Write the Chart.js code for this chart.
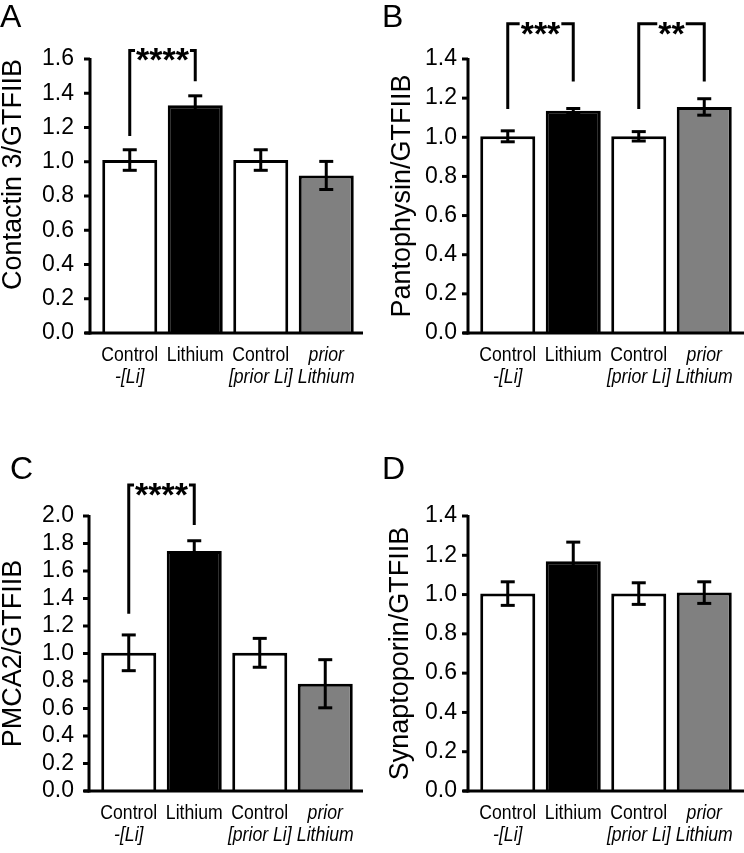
<!DOCTYPE html>
<html>
<head>
<meta charset="utf-8">
<script src="https://cdn.jsdelivr.net/npm/chart.js@4.4.1/dist/chart.umd.min.js"></script>
<style>
body { margin: 0; background: #fff; }
#wrap { position: relative; width: 744px; height: 853px; }
canvas { position: absolute; }
</style>
</head>
<body>
<div id="wrap">
    <canvas id="chartA" width="372" height="426" style="left:0;top:0"></canvas>
    <canvas id="chartB" width="372" height="426" style="left:372px;top:0"></canvas>
    <canvas id="chartC" width="372" height="427" style="left:0;top:426px"></canvas>
    <canvas id="chartD" width="372" height="427" style="left:372px;top:426px"></canvas>
</div>
<script>
// group labels (two lines each, second line italic)
var groupLine1 = ['Control', 'Lithium', 'Control', 'prior'];
var groupLine2 = ['-[Li]', '', '[prior Li]', 'Lithium'];
var barColors = ['#ffffff', '#000000', '#ffffff', '#808080'];

// values (mean and SEM, normalised to GTFIIB)
var contactinMean = [1.01, 1.33, 1.01, 0.92];
var contactinSem = [0.06, 0.055, 0.06, 0.082];
var pantophysinMean = [1.005, 1.135, 1.005, 1.155];
var pantophysinSem = [0.028, 0.012, 0.024, 0.042];
var pmca2Mean = [1.005, 1.745, 1.005, 0.78];
var pmca2Sem = [0.13, 0.075, 0.105, 0.175];
var synaptoporinMean = [1.005, 1.17, 1.005, 1.01];
var synaptoporinSem = [0.06, 0.097, 0.055, 0.055];

// y axis maxima (ticks every 0.2)
var yMax = [1.6, 1.4, 2.0, 1.4];

// significance brackets: [from bar, to bar, left foot, top, right foot, stars]
var contactinStars = [[0, 1, 1.15, 1.65, 1.47, '****']];
var pantophysinStars = [[0, 1, 1.145, 1.58, 1.285, '***'], [2, 3, 1.145, 1.58, 1.285, '**']];
var pmca2Stars = [[0, 1, 1.29, 2.225, 1.935, '****']];
var synaptoporinStars = [];

var FONT = '"Liberation Sans", Arial, Helvetica, sans-serif';

var panels = [
    {id: 'chartA', letter: 'A', title: 'Contactin 3/GTFIIB', mean: contactinMean, sem: contactinSem, max: yMax[0],
     stars: contactinStars, left: 97, top: 59, right: 13, bottom: 93, labelPad: 23, titlePad: 0, titleAlign: 'end', axisEnd: 4, letterX: 0, letterY: 27},
    {id: 'chartB', letter: 'B', title: 'Pantophysin/GTFIIB', mean: pantophysinMean, sem: pantophysinSem, max: yMax[1],
     stars: pantophysinStars, left: 103, top: 59, right: 7, bottom: 93, labelPad: 18, titlePad: 17.5, titleAlign: 'center', axisEnd: 7, letterX: 10, letterY: 27},
    {id: 'chartC', letter: 'C', title: 'PMCA2/GTFIIB', mean: pmca2Mean, sem: pmca2Sem, max: yMax[2],
     stars: pmca2Stars, left: 96, top: 90, right: 14, bottom: 62, labelPad: 22, titlePad: 0, titleAlign: 'center', axisEnd: 5, letterX: 10, letterY: 53},
    {id: 'chartD', letter: 'D', title: 'Synaptoporin/GTFIIB', mean: synaptoporinMean, sem: synaptoporinSem, max: yMax[3],
     stars: synaptoporinStars, left: 103, top: 90, right: 7, bottom: 62, labelPad: 18, titlePad: 15.5, titleAlign: 'center', axisEnd: 7, letterX: 10, letterY: 53}
];

function makeDecor(panel) {
    return {
        id: 'decor',
        afterDraw: function(chart) {
            var ctx = chart.ctx;
            var xs = chart.scales.x;
            var ys = chart.scales.y;
            var area = chart.chartArea;
            var axisX = area.left - 7;

            function line(x1, y1, x2, y2) {
                ctx.beginPath();
                ctx.moveTo(x1, y1);
                ctx.lineTo(x2, y2);
                ctx.stroke();
            }

            ctx.save();
            ctx.strokeStyle = '#000';
            ctx.fillStyle = '#000';
            ctx.lineWidth = 3;
            ctx.lineJoin = 'miter';

            // error bars
            for (var i = 0; i < panel.mean.length; i++) {
                var cx = xs.getPixelForValue(i);
                var top = ys.getPixelForValue(panel.mean[i] + panel.sem[i]);
                var bot = ys.getPixelForValue(panel.mean[i] - panel.sem[i]);
                line(cx, top, cx, bot);
                line(cx - 7, top, cx + 7, top);
                line(cx - 7, bot, cx + 7, bot);
            }

            // axes
            line(axisX, ys.getPixelForValue(panel.max) - 1, axisX, area.bottom + 1.5);
            line(axisX - 5, area.bottom, area.right + panel.axisEnd, area.bottom);
            ys.ticks.forEach(function(t) {
                var ty = ys.getPixelForValue(t.value);
                line(axisX - 6, ty, axisX, ty);
            });

            // category labels, narrow type
            ctx.textAlign = 'center';
            ctx.textBaseline = 'alphabetic';
            function narrow(s, cx, by, italic) {
                ctx.save();
                ctx.translate(cx, by);
                ctx.scale(0.84, 1);
                ctx.font = (italic ? 'italic ' : '') + '21px ' + FONT;
                ctx.fillText(s, 0, 0);
                ctx.restore();
            }
            groupLine1.forEach(function(s, i) {
                var cx = xs.getPixelForValue(i);
                narrow(s, cx, area.bottom + 28, i === 3);
                narrow(groupLine2[i], cx, area.bottom + 50, true);
            });

            // significance brackets
            panel.stars.forEach(function(b) {
                var x1 = xs.getPixelForValue(b[0]);
                var x2 = xs.getPixelForValue(b[1]);
                var yl = ys.getPixelForValue(b[2]);
                var yt = ys.getPixelForValue(b[3]);
                var yr = ys.getPixelForValue(b[4]);
                ctx.font = 'bold 34px ' + FONT;
                var w = ctx.measureText(b[5]).width;
                var mid = (x1 + x2) / 2;
                ctx.beginPath();
                ctx.moveTo(x1, yl);
                ctx.lineTo(x1, yt);
                ctx.lineTo(mid - w / 2 - 1, yt);
                ctx.stroke();
                ctx.beginPath();
                ctx.moveTo(mid + w / 2 + 1, yt);
                ctx.lineTo(x2, yt);
                ctx.lineTo(x2, yr);
                ctx.stroke();
                ctx.fillText(b[5], mid, yt + 21);
            });

            // panel letter
            ctx.textAlign = 'left';
            ctx.font = '32px ' + FONT;
            ctx.fillText(panel.letter, panel.letterX, panel.letterY);
            ctx.restore();
        }
    };
}

panels.forEach(function(panel) {
    var ctx = document.getElementById(panel.id).getContext('2d');
    new Chart(ctx, {
        type: 'bar',
        data: {
            labels: groupLine1,
            datasets: [{
                data: panel.mean,
                backgroundColor: barColors,
                borderColor: '#000000',
                borderWidth: 3,
                categoryPercentage: 1,
                barPercentage: 0.84
            }]
        },
        options: {
            responsive: false,
            animation: false,
            devicePixelRatio: 1,
            layout: {
                padding: {left: 0, top: panel.top, right: panel.right, bottom: panel.bottom}
            },
            plugins: {
                legend: {display: false},
                tooltip: {enabled: false}
            },
            scales: {
                x: {display: false},
                y: {
                    min: 0,
                    max: panel.max,
                    grid: {display: false, drawTicks: false},
                    border: {display: false},
                    ticks: {
                        stepSize: 0.2,
                        autoSkip: false,
                        padding: panel.labelPad,
                        color: '#000',
                        font: {family: FONT, size: 23},
                        callback: function(v) { return Number(v).toFixed(1); }
                    },
                    title: {
                        display: true,
                        text: panel.title,
                        align: panel.titleAlign,
                        color: '#000',
                        font: {family: FONT, size: 27, lineHeight: 1},
                        padding: {top: panel.titlePad, bottom: 0}
                    },
                    afterFit: function(scale) { scale.width = panel.left; }
                }
            }
        },
        plugins: [makeDecor(panel)]
    });
});
</script>
</body>
</html>
